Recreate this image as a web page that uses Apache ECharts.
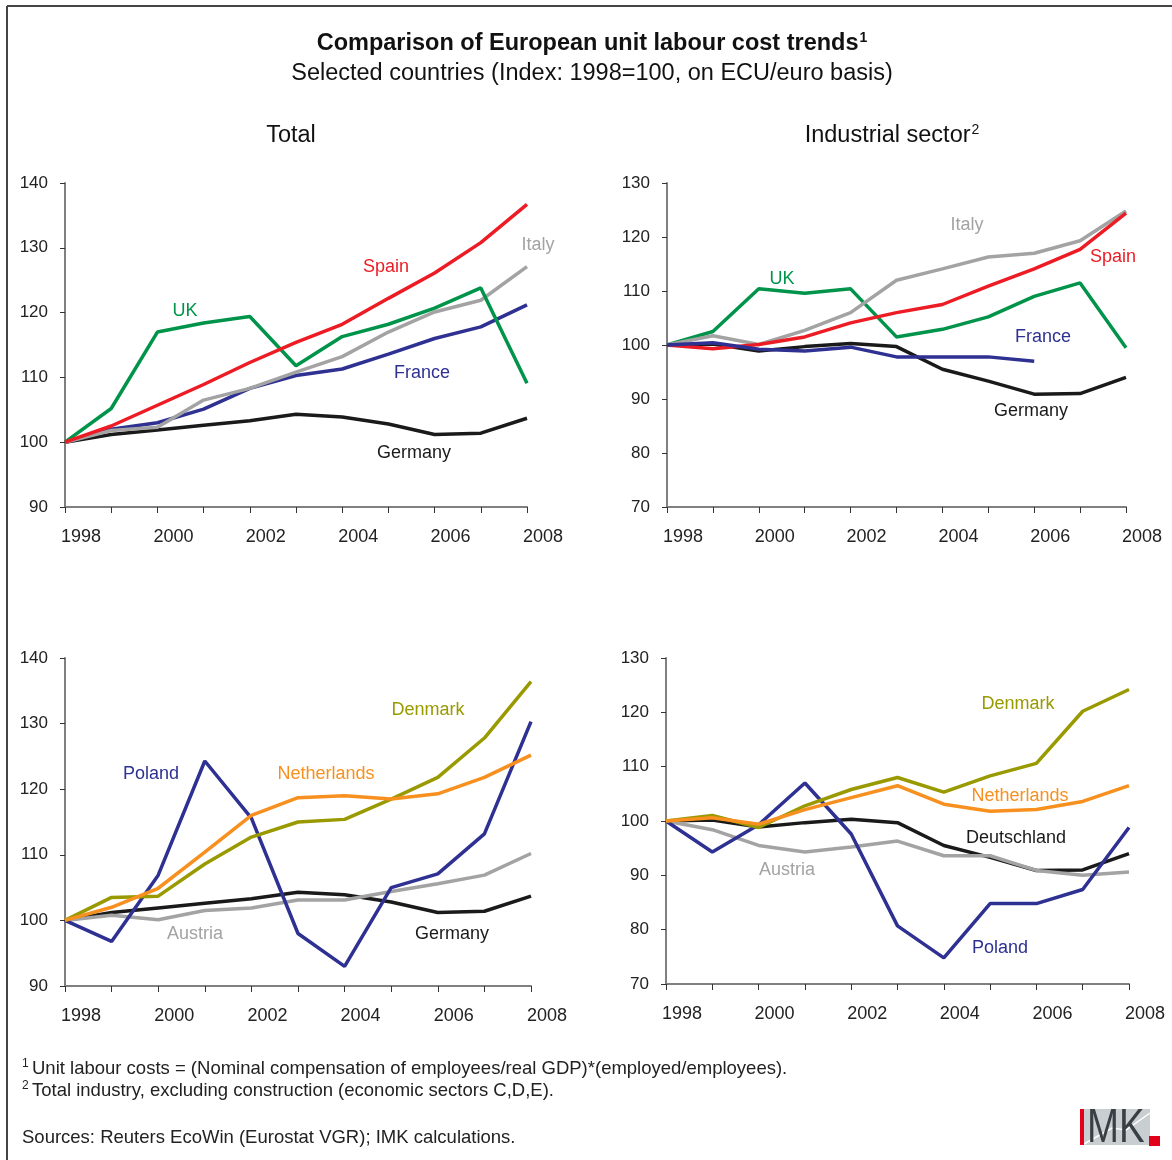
<!DOCTYPE html>
<html>
<head>
<meta charset="utf-8">
<script src="https://cdn.jsdelivr.net/npm/echarts@6/dist/echarts.min.js"></script>
<style>
html,body{margin:0;padding:0;background:#fff;}
#c{width:1172px;height:1160px;}
</style>
</head>
<body>
<div id="c"></div>
<script>
// ---- data ----
const years = ['1998','1999','2000','2001','2002','2003','2004','2005','2006','2007','2008'];

// Total (top-left)
const totSpain   = [100,102.5,105.7,108.9,112.3,115.4,118.2,122.2,126.1,130.8,136.7];
const totUK      = [100,105.2,117.0,118.4,119.4,111.8,116.3,118.2,120.7,123.8,109.1];
const totItaly   = [100,101.8,102.3,106.5,108.3,110.8,113.2,117.0,120.1,121.9,127.1];
const totFrance  = [100,102.0,103.0,105.1,108.3,110.3,111.3,113.6,116.0,117.8,121.2];
const totGermany = [100,101.2,101.9,102.6,103.3,104.3,103.9,102.8,101.2,101.4,103.7];

// Industrial sector (top-right)
const indItaly   = [100,101.7,100.1,102.7,106.0,112.0,114.1,116.3,117.0,119.3,124.8];
const indSpain   = [100,99.3,100.1,101.5,104.1,106.0,107.5,110.9,114.1,117.7,124.4];
const indUK      = [100,102.5,110.4,109.6,110.4,101.5,102.9,105.2,109.0,111.5,99.5];
const indFrance  = [100,100.4,99.2,98.9,99.6,97.8,97.8,97.8,97.0,null,null];
const indGermany = [100,100.2,98.9,99.7,100.3,99.7,95.5,93.3,90.9,91.0,94.0];

// Total (bottom-left)
const totDenmark     = [100,103.5,103.7,108.6,112.7,115.0,115.4,118.5,121.8,127.8,136.4];
const totNetherlands = [100,102.0,104.9,110.4,116.0,118.7,119.0,118.5,119.3,121.8,125.2];
const totPoland      = [100,96.8,106.9,124.3,115.6,98.0,93.0,105.0,107.1,113.2,130.3];
const totAustria     = [100,100.8,100.1,101.5,101.9,103.1,103.1,104.4,105.6,106.9,110.2];

// Industrial sector (bottom-right)
const indDenmark     = [100,101.0,98.8,102.8,105.8,108.0,105.3,108.3,110.6,120.2,124.2];
const indNetherlands = [100,100.6,99.4,102.1,104.3,106.5,103.1,101.8,102.1,103.6,106.5];
const indAustria     = [100,98.4,95.5,94.3,95.2,96.3,93.6,93.6,90.9,90.0,90.6];
const indPoland      = [100,94.3,99.3,107.0,97.6,80.7,74.8,84.8,84.8,87.4,98.8];

// ---- styling ----
const FONT = '"Liberation Sans", Arial, sans-serif';
const C = {
  red:'#ed1c24', green:'#00934a', gray:'#a3a3a3', blue:'#2e3192', black:'#1a1a1a',
  olive:'#999900', orange:'#f7901e', axis:'#808080'
};

const grids = [
  {left:65,  top:183, width:462, height:324},
  {left:667, top:183, width:459, height:324},
  {left:65,  top:658, width:466, height:328},
  {left:666, top:658, width:463, height:326}
];
const yRanges = [[90,140],[70,130],[90,140],[70,130]];

function xAxis(i){
  return {
    type:'category', gridIndex:i, data:years, boundaryGap:false,
    axisLine:{lineStyle:{color:C.axis,width:2}},
    axisTick:{interval:0,length:6,lineStyle:{color:'#333',width:1}},
    axisLabel:{interval:1,align:'center',padding:[0,0,0,32],margin:21,color:'#222',fontSize:18,fontFamily:FONT},
    splitLine:{show:false}
  };
}
function yAxis(i){
  return {
    type:'value', gridIndex:i, min:yRanges[i][0], max:yRanges[i][1], interval:10,
    axisLine:{show:true,lineStyle:{color:C.axis,width:2}},
    axisTick:{show:true,length:5,lineStyle:{color:'#333',width:1}},
    axisLabel:{margin:17,color:'#222',fontSize:17,fontFamily:FONT},
    splitLine:{show:false}
  };
}
function line(i,data,color){
  return {type:'line',xAxisIndex:i,yAxisIndex:i,data:data,symbol:'none',
    lineStyle:{color:color,width:3.5},itemStyle:{color:color},animation:false,z:2};
}

function label(x,y,text,color){
  return {type:'text',x:x,y:y,style:{text:text,fill:color,font:'18px '+FONT,
    align:'center',verticalAlign:'middle'},z:10};
}

const graphics = [
  // frame
  {type:'line',shape:{x1:7,y1:6,x2:1172,y2:6},style:{stroke:'#444',lineWidth:2}},
  {type:'line',shape:{x1:7,y1:6,x2:7,y2:1160},style:{stroke:'#444',lineWidth:2}},
  // titles
  {type:'text',x:592,y:44,style:{
    text:'{b|Comparison of European unit labour cost trends}{s|1}',
    align:'center',verticalAlign:'middle',fill:'#111',
    rich:{b:{font:'bold 23.5px '+FONT,fill:'#111',lineHeight:26},
          s:{font:'bold 14px '+FONT,fill:'#111',lineHeight:26,verticalAlign:'top',padding:[0,0,9,1]}}}},
  {type:'text',x:592,y:74,style:{text:'Selected countries (Index: 1998=100, on ECU/euro basis)',
    fill:'#111',font:'23.5px '+FONT,align:'center',verticalAlign:'middle'}},
  {type:'text',x:291,y:136,style:{text:'Total',fill:'#111',font:'23.5px '+FONT,align:'center',verticalAlign:'middle'}},
  {type:'text',x:892,y:136,style:{
    text:'{r|Industrial sector}{s|2}',align:'center',verticalAlign:'middle',fill:'#111',
    rich:{r:{font:'23.5px '+FONT,fill:'#111',lineHeight:26},
          s:{font:'14px '+FONT,fill:'#111',lineHeight:26,verticalAlign:'top',padding:[0,0,9,1]}}}},
  // series labels - top-left
  label(386,267,'Spain',C.red),
  label(538,245,'Italy',C.gray),
  label(185,311,'UK',C.green),
  label(422,373,'France',C.blue),
  label(414,453,'Germany',C.black),
  // top-right
  label(967,225,'Italy',C.gray),
  label(1113,257,'Spain',C.red),
  label(782,279,'UK',C.green),
  label(1043,337,'France',C.blue),
  label(1031,411,'Germany',C.black),
  // bottom-left
  label(428,710,'Denmark',C.olive),
  label(151,774,'Poland',C.blue),
  label(326,774,'Netherlands',C.orange),
  label(195,934,'Austria',C.gray),
  label(452,934,'Germany',C.black),
  // bottom-right
  label(1018,704,'Denmark',C.olive),
  label(1020,796,'Netherlands',C.orange),
  label(1016,838,'Deutschland',C.black),
  label(787,870,'Austria',C.gray),
  label(1000,948,'Poland',C.blue),
  // footnotes
  {type:'text',x:22,y:1069,style:{
    text:'{s|1} {t|Unit labour costs = (Nominal compensation of employees/real GDP)*(employed/employees).}',
    verticalAlign:'middle',
    rich:{s:{font:'12px '+FONT,fill:'#222',verticalAlign:'top',lineHeight:22,padding:[0,0,6,0]},
          t:{font:'18.5px '+FONT,fill:'#222',lineHeight:22}}}},
  {type:'text',x:22,y:1091,style:{
    text:'{s|2} {t|Total industry, excluding construction (economic sectors C,D,E).}',
    verticalAlign:'middle',
    rich:{s:{font:'12px '+FONT,fill:'#222',verticalAlign:'top',lineHeight:22,padding:[0,0,6,0]},
          t:{font:'18.5px '+FONT,fill:'#222',lineHeight:22}}}},
  {type:'text',x:22,y:1138,style:{text:'Sources: Reuters EcoWin (Eurostat VGR); IMK calculations.',
    font:'18.5px '+FONT,fill:'#222',verticalAlign:'middle'}},
  // logo
  {type:'rect',shape:{x:1080,y:1109,width:70,height:36},style:{fill:'#c9ced1'}},
  {type:'polyline',shape:{points:[[1084,1144],[1112,1128],[1126,1130],[1150,1113]]},style:{stroke:'#fff',lineWidth:1.5,fill:null}},
  {type:'rect',shape:{x:1080,y:1109,width:4,height:36},style:{fill:'#e3001b'}},
  {type:'text',x:1087,y:1129,scaleX:0.8,style:{text:'MK',font:'48px '+FONT,fill:'#3a3f45',verticalAlign:'middle'},z:20},
  {type:'rect',shape:{x:1149,y:1136,width:11,height:10},style:{fill:'#e3001b'}}
];

const option = {
  animation:false,
  backgroundColor:'#fff',
  grid: grids,
  xAxis: [0,1,2,3].map(xAxis),
  yAxis: [0,1,2,3].map(yAxis),
  series: [
    line(0,totGermany,C.black),
    line(0,totFrance,C.blue),
    line(0,totItaly,C.gray),
    line(0,totUK,C.green),
    line(0,totSpain,C.red),

    line(1,indGermany,C.black),
    line(1,indUK,C.green),
    line(1,indItaly,C.gray),
    line(1,indSpain,C.red),
    line(1,indFrance,C.blue),

    line(2,totGermany,C.black),
    line(2,totAustria,C.gray),
    line(2,totPoland,C.blue),
    line(2,totDenmark,C.olive),
    line(2,totNetherlands,C.orange),

    line(3,indGermany,C.black),
    line(3,indAustria,C.gray),
    line(3,indPoland,C.blue),
    line(3,indDenmark,C.olive),
    line(3,indNetherlands,C.orange)
  ],
  graphic: graphics
};

const chart = echarts.init(document.getElementById('c'), null, {renderer:'canvas'});
chart.setOption(option);
</script>
</body>
</html>
